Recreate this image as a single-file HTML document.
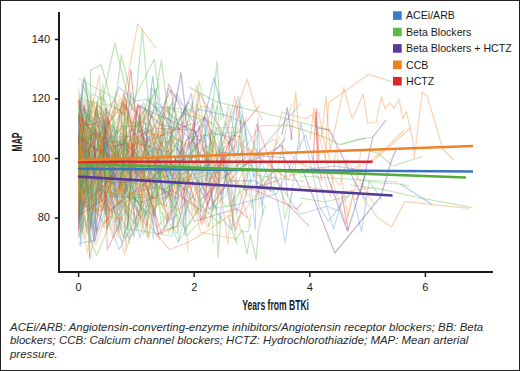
<!DOCTYPE html>
<html><head><meta charset="utf-8"><style>
html,body{margin:0;padding:0;background:#fff;}
body{width:520px;height:371px;overflow:hidden;position:relative;}
.frame{position:absolute;left:0;top:0;width:518px;height:369px;border:1px solid #222;}
svg{position:absolute;left:0;top:0;}
.tk{font-family:"Liberation Sans",sans-serif;font-size:11px;fill:#1a1a1a;}
.lg{font-family:"Liberation Sans",sans-serif;font-size:10.6px;fill:#1a1a1a;}
.cap{position:absolute;left:10px;top:320.6px;width:505px;font-family:"Liberation Sans",sans-serif;font-style:italic;font-size:11.45px;line-height:13.8px;color:#2a2a2a;}
</style></head><body>
<svg width="520" height="371" viewBox="0 0 520 371">
<defs><filter id="bl" x="0" y="0" width="1" height="1"><feGaussianBlur stdDeviation="0.45"/></filter></defs>
<g fill="none" stroke-linejoin="round" filter="url(#bl)">
<polyline points="78.6,175.9 82.4,138.3 130.2,136.5 133.9,162.5 141.0,190.5 175.3,128.3 185.1,235.7 189.2,137.2 207.4,135.3 216.5,151.2 234.6,187.8" stroke="#3a7dc9" stroke-opacity="0.3" stroke-width="1.15"/>
<polyline points="78.6,101.3 84.4,208.5 87.3,170.7 103.0,152.3 117.3,144.9 121.1,187.7 132.0,135.3 138.8,175.1 150.3,126.7 168.9,197.9 171.7,138.1" stroke="#f07f1d" stroke-opacity="0.3" stroke-width="1.15"/>
<polyline points="78.6,211.4 86.1,163.5 104.2,181.1 110.5,158.8 125.3,138.1 129.6,167.2 151.1,168.2 173.3,180.0 185.7,191.0" stroke="#5cb846" stroke-opacity="0.3" stroke-width="1.15"/>
<polyline points="78.6,236.4 93.7,208.5 104.2,222.8 120.7,200.6 139.5,220.0 147.0,150.8 149.9,179.3" stroke="#f07f1d" stroke-opacity="0.3" stroke-width="1.15"/>
<polyline points="78.6,132.7 80.1,176.4 86.3,144.9 89.2,131.8 103.7,111.8 112.3,214.8 116.5,137.5 119.0,191.5 125.0,137.3 133.0,192.4 153.6,188.1 169.0,153.4 186.3,202.9" stroke="#3a7dc9" stroke-opacity="0.3" stroke-width="1.15"/>
<polyline points="78.6,78.4 112.8,97.1 131.9,130.2 160.0,83.9" stroke="#5cb846" stroke-opacity="0.3" stroke-width="1.15"/>
<polyline points="78.6,101.4 97.5,192.7 124.6,104.4 135.7,138.1 150.5,130.2 194.5,221.3 237.0,208.6 247.8,218.2" stroke="#d9262b" stroke-opacity="0.3" stroke-width="1.15"/>
<polyline points="78.6,128.2 107.6,119.2 108.2,150.4" stroke="#d9262b" stroke-opacity="0.3" stroke-width="1.15"/>
<polyline points="78.6,159.2 89.3,115.6 92.1,102.4 115.1,183.7" stroke="#5cb846" stroke-opacity="0.3" stroke-width="1.15"/>
<polyline points="78.6,152.0 100.2,145.9 112.1,150.8 128.9,216.9 133.3,132.2 135.7,173.6 171.3,150.0 176.0,112.0 184.6,168.0 188.3,162.1 211.1,143.8" stroke="#5cb846" stroke-opacity="0.3" stroke-width="1.15"/>
<polyline points="78.6,216.1 83.5,125.3 91.9,100.7 111.4,115.5 131.7,209.7" stroke="#5cb846" stroke-opacity="0.3" stroke-width="1.15"/>
<polyline points="78.6,177.3 79.2,196.5" stroke="#f07f1d" stroke-opacity="0.3" stroke-width="1.15"/>
<polyline points="78.6,235.8 94.2,193.5 103.7,211.3 107.6,181.7 111.9,149.3 115.8,185.7 127.0,191.3" stroke="#5cb846" stroke-opacity="0.3" stroke-width="1.15"/>
<polyline points="78.6,123.5 91.7,164.3 100.4,202.6 131.1,176.8" stroke="#5cb846" stroke-opacity="0.3" stroke-width="1.15"/>
<polyline points="78.6,100.9 91.9,232.1 100.7,150.0 107.5,184.0 159.9,177.6 167.0,222.2 173.0,178.2 220.9,187.2 273.2,139.1 321.7,181.4" stroke="#f07f1d" stroke-opacity="0.3" stroke-width="1.15"/>
<polyline points="78.6,178.9 81.1,156.7 95.4,240.3 106.6,119.0 119.3,134.7 126.3,190.0 129.9,156.5 135.0,206.8 137.8,169.2 156.1,189.2" stroke="#3a7dc9" stroke-opacity="0.3" stroke-width="1.15"/>
<polyline points="78.6,159.3 108.1,172.9 115.3,199.9 123.1,237.8" stroke="#5cb846" stroke-opacity="0.3" stroke-width="1.15"/>
<polyline points="78.6,205.2 89.3,135.0" stroke="#f07f1d" stroke-opacity="0.3" stroke-width="1.15"/>
<polyline points="78.6,147.1 81.5,150.2 82.1,83.5 87.5,96.4 111.0,199.9 116.1,188.3 121.3,189.0 129.4,99.3 151.4,165.8 177.3,148.4 190.9,176.5 199.4,201.2 252.7,150.4 256.8,124.1 284.7,201.4 309.2,226.4" stroke="#d9262b" stroke-opacity="0.3" stroke-width="1.15"/>
<polyline points="78.6,169.3 80.2,141.6 83.2,113.7 85.8,100.2 101.8,156.1 107.7,179.4 139.3,105.3 142.4,167.6 164.1,173.1 175.3,142.1 205.0,174.5" stroke="#f07f1d" stroke-opacity="0.3" stroke-width="1.15"/>
<polyline points="78.6,136.9 88.5,144.4 91.5,125.2 101.1,199.0 104.2,144.1 108.9,148.1 121.8,217.9 143.3,102.3 165.6,168.8 186.8,235.7 226.1,194.4 240.4,160.5 246.3,129.2" stroke="#5cb846" stroke-opacity="0.3" stroke-width="1.15"/>
<polyline points="78.6,157.3 104.3,228.4 105.6,107.4 145.2,175.9 165.6,192.8 177.8,205.1 180.9,159.0 188.4,252.9" stroke="#5cb846" stroke-opacity="0.3" stroke-width="1.15"/>
<polyline points="78.6,214.4 81.7,169.7 110.3,156.1" stroke="#d9262b" stroke-opacity="0.3" stroke-width="1.15"/>
<polyline points="78.6,190.8 84.8,182.8 88.1,118.2 93.8,166.0 112.2,175.0 119.9,157.5 123.4,136.5 138.8,158.5 156.2,148.5 174.0,210.3 187.1,105.9" stroke="#5cb846" stroke-opacity="0.3" stroke-width="1.15"/>
<polyline points="78.6,156.3 88.1,215.7 89.8,259.6 102.1,188.8 107.3,181.6 142.6,159.0 151.9,149.2" stroke="#d9262b" stroke-opacity="0.3" stroke-width="1.15"/>
<polyline points="78.6,219.8 81.6,207.0 116.8,172.5 122.3,146.3 125.1,193.1 170.8,89.8 187.6,173.8 199.4,93.3 234.1,152.6 237.0,105.6" stroke="#d9262b" stroke-opacity="0.3" stroke-width="1.15"/>
<polyline points="78.6,177.7 81.0,168.5 94.0,141.6 99.9,155.9 142.0,208.1 157.1,227.1 172.4,209.7 185.4,229.5 241.8,145.3" stroke="#5cb846" stroke-opacity="0.3" stroke-width="1.15"/>
<polyline points="78.6,161.5 123.4,104.1 130.4,182.6" stroke="#d9262b" stroke-opacity="0.3" stroke-width="1.15"/>
<polyline points="78.6,185.7 85.2,105.5 88.0,142.7 97.7,150.3 147.1,128.4 170.1,182.9 172.6,99.2 176.2,93.9 195.1,124.6 204.1,117.9 208.2,187.5 238.7,96.0 243.1,165.9 253.9,158.7 262.2,148.2 300.9,103.0" stroke="#3a7dc9" stroke-opacity="0.3" stroke-width="1.15"/>
<polyline points="78.6,135.6 85.3,191.8 90.9,171.5 94.3,179.6 108.7,182.1 111.3,161.2 116.3,206.8 121.1,229.4 124.5,98.3 161.0,144.0 170.4,154.2 193.9,178.7 204.3,187.4 214.3,133.2 220.8,197.5 225.9,207.6 256.0,175.2 304.1,181.6" stroke="#5cb846" stroke-opacity="0.3" stroke-width="1.15"/>
<polyline points="78.6,149.8 95.3,191.7 97.8,187.5 101.1,214.9" stroke="#f07f1d" stroke-opacity="0.3" stroke-width="1.15"/>
<polyline points="78.6,87.1 80.3,105.7 109.4,123.8 116.3,148.8 119.9,153.9 139.3,140.4" stroke="#f07f1d" stroke-opacity="0.3" stroke-width="1.15"/>
<polyline points="78.6,140.2 82.7,135.1 90.8,242.0 106.2,159.0 126.0,184.7 131.5,201.3 139.8,238.2 157.5,155.2 163.3,204.4 186.2,157.9 204.3,136.1 214.0,211.1" stroke="#3a7dc9" stroke-opacity="0.3" stroke-width="1.15"/>
<polyline points="78.6,116.5 84.2,152.5 87.0,111.7 89.5,163.2 123.4,125.4 125.8,250.5 134.2,146.0 142.4,139.7 161.5,131.9 169.5,163.4 187.3,169.4 192.3,214.0 204.8,145.2 222.7,157.4 226.6,172.9 260.6,125.6 288.8,125.4 294.4,126.7" stroke="#f07f1d" stroke-opacity="0.3" stroke-width="1.15"/>
<polyline points="78.6,137.6 81.1,173.7 83.6,108.6 87.2,141.6 96.0,131.5 111.6,177.7 115.4,91.4 153.4,145.2 172.4,101.5" stroke="#f07f1d" stroke-opacity="0.3" stroke-width="1.15"/>
<polyline points="78.6,218.7 81.1,184.9 84.1,164.8 94.0,242.3 114.6,184.1 120.5,172.5 127.6,169.2" stroke="#3a7dc9" stroke-opacity="0.3" stroke-width="1.15"/>
<polyline points="78.6,216.3 79.2,148.5 81.3,184.0 90.9,227.5" stroke="#3a7dc9" stroke-opacity="0.3" stroke-width="1.15"/>
<polyline points="78.6,114.7 81.4,178.4 83.1,131.5 92.1,93.7 105.6,101.1 110.5,149.0 125.5,164.4 150.6,173.5 163.8,183.2 168.2,221.0 179.0,214.0 191.4,161.9 196.3,108.9 226.2,115.4 232.6,118.0 244.6,123.7 255.3,229.6 257.9,117.4 262.7,215.3" stroke="#3a7dc9" stroke-opacity="0.3" stroke-width="1.15"/>
<polyline points="78.6,144.8 97.6,177.4 102.5,171.3 126.1,183.7 130.5,128.7 152.3,133.7 164.9,135.6" stroke="#f07f1d" stroke-opacity="0.3" stroke-width="1.15"/>
<polyline points="78.6,170.9 81.7,179.4 108.3,174.7 119.8,140.3 132.7,189.5 148.9,112.8" stroke="#5cb846" stroke-opacity="0.3" stroke-width="1.15"/>
<polyline points="78.6,208.7 88.1,159.9 89.0,225.2 104.0,172.8 108.3,197.3 117.4,158.8 124.6,193.7 153.8,195.8 211.0,163.3 216.0,127.3 237.3,245.2" stroke="#5cb846" stroke-opacity="0.3" stroke-width="1.15"/>
<polyline points="78.6,114.2 80.0,121.9 81.1,152.3 85.5,82.4 94.1,156.3" stroke="#5cb846" stroke-opacity="0.3" stroke-width="1.15"/>
<polyline points="78.6,216.5 81.0,142.2 88.4,182.8 102.9,209.4" stroke="#f07f1d" stroke-opacity="0.3" stroke-width="1.15"/>
<polyline points="78.6,238.4 82.3,142.7 93.9,163.5 103.7,207.2 119.0,249.6 146.4,199.8 157.1,148.9" stroke="#3a7dc9" stroke-opacity="0.3" stroke-width="1.15"/>
<polyline points="78.6,147.9 89.7,138.6 100.2,89.9 108.6,213.6 144.5,169.3 146.9,156.4 162.9,208.5 167.9,185.2 218.4,171.7 241.2,119.6 243.8,151.0 251.8,208.8 279.4,136.0" stroke="#5cb846" stroke-opacity="0.3" stroke-width="1.15"/>
<polyline points="78.6,229.9 80.6,173.1 82.9,194.0 95.1,180.1 109.7,151.8 119.8,143.6 123.6,93.2 158.4,234.3 177.9,226.0 191.5,173.1 196.6,160.1 204.3,115.7 214.0,153.6" stroke="#d9262b" stroke-opacity="0.3" stroke-width="1.15"/>
<polyline points="78.6,173.8 90.5,191.0 109.7,110.2 119.1,87.3 135.3,101.3 146.3,99.3 196.9,144.7" stroke="#3a7dc9" stroke-opacity="0.3" stroke-width="1.15"/>
<polyline points="78.6,226.7 129.0,180.0" stroke="#5cb846" stroke-opacity="0.3" stroke-width="1.15"/>
<polyline points="78.6,182.0 82.4,161.2 100.0,197.2 117.7,238.2" stroke="#f07f1d" stroke-opacity="0.3" stroke-width="1.15"/>
<polyline points="78.6,189.0 88.0,112.3 91.6,194.5 109.3,186.5 144.9,109.8 149.9,124.3 159.0,176.1 177.8,140.8 180.6,186.5 187.3,176.3 199.2,81.2 210.1,129.8 213.1,244.2" stroke="#5cb846" stroke-opacity="0.3" stroke-width="1.15"/>
<polyline points="78.6,127.0 80.9,94.4 90.4,140.8 107.1,131.6 124.1,169.2 133.9,151.0 141.5,161.2 148.5,136.4 162.4,182.8 193.3,138.4 204.6,141.7" stroke="#3a7dc9" stroke-opacity="0.3" stroke-width="1.15"/>
<polyline points="78.6,197.6 105.3,171.8 107.7,219.7 111.7,174.9 135.9,195.1 162.4,176.7 187.3,172.7 200.6,232.4 235.8,238.7" stroke="#f07f1d" stroke-opacity="0.3" stroke-width="1.15"/>
<polyline points="78.6,140.6 82.1,187.7 96.9,178.5 101.2,194.5 106.5,121.2 108.8,154.6 142.8,178.8 155.4,140.5 163.7,194.4" stroke="#3a7dc9" stroke-opacity="0.3" stroke-width="1.15"/>
<polyline points="78.6,143.8 129.7,239.5 133.5,230.9 154.2,192.0 163.4,121.8 173.1,229.1 185.6,140.6 205.1,123.9 210.1,191.9 217.1,212.7 231.7,230.4 241.5,114.6 277.4,199.7 285.3,242.9 300.9,123.3 315.6,186.3 318.9,205.6 328.3,221.3 351.9,190.6 361.5,231.9 369.1,181.7 372.8,186.5 382.1,200.1" stroke="#3a7dc9" stroke-opacity="0.3" stroke-width="1.15"/>
<polyline points="78.6,153.7 88.7,149.2 100.8,200.1 112.7,180.6 115.8,145.3 123.7,173.4 127.1,190.6 140.6,205.1 149.8,206.7 154.4,215.8 160.8,183.4 168.9,233.5 197.0,156.8" stroke="#f07f1d" stroke-opacity="0.3" stroke-width="1.15"/>
<polyline points="78.6,148.2 104.3,159.8 105.2,184.7 118.7,164.7 132.2,176.1" stroke="#3a7dc9" stroke-opacity="0.3" stroke-width="1.15"/>
<polyline points="78.6,117.2 82.1,146.8 97.9,205.9" stroke="#f07f1d" stroke-opacity="0.3" stroke-width="1.15"/>
<polyline points="78.6,158.8 95.4,129.3 107.2,157.3" stroke="#3a7dc9" stroke-opacity="0.3" stroke-width="1.15"/>
<polyline points="78.6,140.7 82.1,190.5 83.8,171.6 114.5,162.9 129.4,173.7 135.0,163.8 156.6,102.5 178.5,120.6 188.9,101.6" stroke="#3a7dc9" stroke-opacity="0.3" stroke-width="1.15"/>
<polyline points="78.6,128.1 90.7,177.5 96.1,230.6 122.4,140.3 138.5,215.8 168.1,88.7 182.0,105.4" stroke="#3a7dc9" stroke-opacity="0.3" stroke-width="1.15"/>
<polyline points="78.6,160.5 80.2,140.7 88.4,113.6 143.7,166.7 151.9,88.4 156.4,93.6 173.3,138.1 182.3,121.6 222.2,195.1 240.5,103.3 253.3,176.8 264.3,155.8" stroke="#3a7dc9" stroke-opacity="0.3" stroke-width="1.15"/>
<polyline points="78.6,160.6 85.3,138.5 95.5,244.9 103.6,222.6 109.3,216.6 125.3,219.9" stroke="#f07f1d" stroke-opacity="0.3" stroke-width="1.15"/>
<polyline points="78.6,182.0 80.0,191.0 95.4,193.6 112.8,213.1 117.1,180.5 120.2,137.0 139.4,159.6 143.2,235.0 164.2,172.7 189.1,141.8 208.5,153.2 212.6,205.7 230.2,170.4" stroke="#f07f1d" stroke-opacity="0.3" stroke-width="1.15"/>
<polyline points="78.6,113.7 96.1,175.1 103.8,120.3 106.6,167.2 122.0,138.4 156.1,109.1 196.2,214.1 217.6,158.7" stroke="#5cb846" stroke-opacity="0.3" stroke-width="1.15"/>
<polyline points="78.6,149.7 95.5,112.8 126.8,171.3 131.5,156.6" stroke="#5cb846" stroke-opacity="0.3" stroke-width="1.15"/>
<polyline points="78.6,130.6 79.9,171.1 91.8,197.4 98.0,216.2 101.3,131.5 115.6,198.3 123.3,171.2 148.5,166.5 155.6,178.5 177.7,210.5 202.5,188.0" stroke="#f07f1d" stroke-opacity="0.3" stroke-width="1.15"/>
<polyline points="78.6,150.8 113.2,193.8 133.6,223.5 137.2,143.1 168.1,151.9 174.7,119.6" stroke="#d9262b" stroke-opacity="0.3" stroke-width="1.15"/>
<polyline points="78.6,138.6 81.6,220.6 84.9,146.1 89.2,211.0 104.1,190.7 112.9,167.5 121.7,101.2 149.2,147.6 157.2,128.2 194.1,130.1 217.7,180.0 227.9,153.1" stroke="#d9262b" stroke-opacity="0.3" stroke-width="1.15"/>
<polyline points="78.6,169.8 81.3,201.3 82.0,213.4 104.4,142.1 123.7,140.7 140.6,148.3 163.3,178.6 169.3,153.7 173.2,166.4 189.4,187.8 212.9,176.5 219.9,203.4 224.6,178.2" stroke="#f07f1d" stroke-opacity="0.3" stroke-width="1.15"/>
<polyline points="78.6,179.7 80.6,205.3 81.3,168.1 84.1,150.8 89.5,167.4 100.6,156.8 117.3,221.4" stroke="#f07f1d" stroke-opacity="0.3" stroke-width="1.15"/>
<polyline points="78.6,136.6 84.8,105.2 92.7,210.9 101.9,171.2 110.7,104.4" stroke="#f07f1d" stroke-opacity="0.3" stroke-width="1.15"/>
<polyline points="78.6,228.3 92.1,158.0" stroke="#5cb846" stroke-opacity="0.3" stroke-width="1.15"/>
<polyline points="78.6,151.5 81.9,152.4 83.3,144.5 93.0,176.8 97.8,104.5 109.7,121.8 112.7,170.4" stroke="#d9262b" stroke-opacity="0.3" stroke-width="1.15"/>
<polyline points="78.6,138.0 94.6,146.8 96.1,234.0 118.1,152.7 125.9,167.5 143.9,172.8" stroke="#5b3a9e" stroke-opacity="0.3" stroke-width="1.15"/>
<polyline points="78.6,182.9 82.7,206.3 94.2,199.6 98.1,178.9 114.6,222.5 126.9,200.9 131.3,196.0 147.2,236.0 150.1,138.2" stroke="#5cb846" stroke-opacity="0.3" stroke-width="1.15"/>
<polyline points="78.6,208.0 93.0,204.9 96.1,108.6 133.9,236.9 142.2,169.1 145.0,144.1 151.1,114.8 160.0,142.0 170.4,191.5 179.0,137.1" stroke="#5b3a9e" stroke-opacity="0.3" stroke-width="1.15"/>
<polyline points="78.6,137.4 82.1,228.7 83.1,161.4 126.5,107.4" stroke="#5cb846" stroke-opacity="0.3" stroke-width="1.15"/>
<polyline points="78.6,137.6 117.3,164.7" stroke="#d9262b" stroke-opacity="0.3" stroke-width="1.15"/>
<polyline points="78.6,135.8 92.5,138.9 98.6,147.0 133.1,181.1 162.0,140.4 170.8,206.7 177.9,162.5" stroke="#5cb846" stroke-opacity="0.3" stroke-width="1.15"/>
<polyline points="78.6,164.4 80.6,161.1 91.2,198.2 98.0,158.8 103.0,196.0 123.4,196.8 164.5,198.2 169.0,109.1 173.7,232.1 178.3,242.6 212.8,102.5 237.1,212.6 251.3,162.1 262.4,206.1 265.2,181.5 274.5,176.8 299.7,214.2 327.6,206.3 338.9,211.3" stroke="#3a7dc9" stroke-opacity="0.3" stroke-width="1.15"/>
<polyline points="78.6,191.9 85.4,238.6 89.7,208.1 94.1,151.9 101.5,144.1" stroke="#f07f1d" stroke-opacity="0.3" stroke-width="1.15"/>
<polyline points="78.6,134.6 80.9,209.2 83.8,184.2 91.3,226.0 102.8,83.4 108.3,141.8 130.7,200.1 142.0,194.5 148.1,239.1 160.3,184.2 163.8,106.6 211.8,123.2 234.4,148.1" stroke="#5cb846" stroke-opacity="0.3" stroke-width="1.15"/>
<polyline points="78.6,153.7 113.8,147.3 145.8,170.7 155.6,203.4 176.1,208.0 179.0,241.1 197.0,209.9 217.1,104.8 223.0,153.0 232.4,166.2 250.0,163.3 272.6,193.1 291.4,103.6" stroke="#5cb846" stroke-opacity="0.3" stroke-width="1.15"/>
<polyline points="78.6,144.2 83.3,204.7 101.5,210.6 105.3,192.5 119.0,233.3 122.2,119.2 131.3,194.6 137.3,188.0 141.0,171.9 143.8,143.5" stroke="#f07f1d" stroke-opacity="0.3" stroke-width="1.15"/>
<polyline points="78.6,173.9 79.6,164.3 81.2,165.6 89.6,171.7 108.5,140.0 115.8,131.7 122.8,129.1 127.9,229.4 132.2,229.1 172.0,236.2 176.3,196.4" stroke="#5cb846" stroke-opacity="0.3" stroke-width="1.15"/>
<polyline points="78.6,107.8 102.8,114.6 111.7,111.8 128.8,113.9 141.5,149.7 147.0,195.5 156.6,125.9 176.9,194.6" stroke="#f07f1d" stroke-opacity="0.3" stroke-width="1.15"/>
<polyline points="78.6,204.8 82.8,124.7 86.4,145.8 122.8,158.6 127.1,157.1 153.4,199.5" stroke="#d9262b" stroke-opacity="0.3" stroke-width="1.15"/>
<polyline points="78.6,167.9 98.5,172.8 99.1,152.0 106.6,182.0" stroke="#5cb846" stroke-opacity="0.3" stroke-width="1.15"/>
<polyline points="78.6,93.1 83.2,117.9 91.5,171.2 97.1,101.6 103.2,95.6 107.6,179.3 112.5,167.1 125.1,126.5 141.6,125.7 147.4,97.3 173.8,130.9 188.5,102.2 223.6,159.4" stroke="#5cb846" stroke-opacity="0.3" stroke-width="1.15"/>
<polyline points="78.6,98.9 112.0,162.0 131.8,129.1 157.6,167.8 174.6,174.2 205.1,116.8 219.6,152.0 284.5,157.8 300.8,188.9" stroke="#5b3a9e" stroke-opacity="0.3" stroke-width="1.15"/>
<polyline points="78.6,126.1 83.6,215.9" stroke="#f07f1d" stroke-opacity="0.3" stroke-width="1.15"/>
<polyline points="78.6,222.4 98.4,157.3 101.7,181.8 129.2,182.8 137.5,105.9 196.8,132.0 200.9,220.1 217.7,179.9 282.2,145.2 287.8,196.4" stroke="#5b3a9e" stroke-opacity="0.3" stroke-width="1.15"/>
<polyline points="78.6,106.1 81.2,156.9" stroke="#5cb846" stroke-opacity="0.3" stroke-width="1.15"/>
<polyline points="78.6,146.7 90.2,162.7 97.2,100.9 100.4,174.5 108.2,122.5 114.0,145.8 118.1,146.1 133.9,137.9 162.4,156.4 177.4,93.2" stroke="#5cb846" stroke-opacity="0.3" stroke-width="1.15"/>
<polyline points="78.6,198.6 85.7,138.6 112.9,238.4 128.2,143.9 170.1,219.7 174.5,158.7 202.5,194.7" stroke="#f07f1d" stroke-opacity="0.3" stroke-width="1.15"/>
<polyline points="78.6,166.1 93.5,119.6 115.0,100.1 124.3,136.7 154.9,153.6 173.9,200.2 195.6,115.6 204.9,153.9 212.0,151.8 214.5,141.0 227.8,244.9 230.6,212.3 236.8,183.9 254.6,148.2 259.0,207.4" stroke="#f07f1d" stroke-opacity="0.3" stroke-width="1.15"/>
<polyline points="78.6,199.2 87.7,98.9 89.4,258.1 94.0,126.9 104.8,167.7 107.4,229.2 123.8,180.2 165.9,190.8 168.9,193.9 176.6,176.9 182.0,151.8 185.0,158.7 189.5,224.5" stroke="#5cb846" stroke-opacity="0.3" stroke-width="1.15"/>
<polyline points="78.6,184.8 85.3,146.5 88.3,234.2 103.0,156.8 114.4,125.7 117.7,208.3 126.7,184.0 134.2,189.6 140.1,169.9 203.3,154.9 213.9,178.1 225.5,121.8 238.3,170.1" stroke="#3a7dc9" stroke-opacity="0.3" stroke-width="1.15"/>
<polyline points="78.6,180.2 91.9,201.0 96.9,189.6 121.8,176.0 127.0,122.6 142.3,122.1 154.1,126.6 168.8,106.9 177.9,177.2" stroke="#5cb846" stroke-opacity="0.3" stroke-width="1.15"/>
<polyline points="78.6,164.7 79.7,165.0 99.4,75.2 103.9,175.0 131.4,198.6 161.6,143.1 177.8,139.1 180.4,140.2" stroke="#f07f1d" stroke-opacity="0.3" stroke-width="1.15"/>
<polyline points="78.6,128.0 82.0,233.6 89.6,132.9 94.5,176.1 119.7,185.9 130.7,92.2 147.2,150.7 219.1,223.7 235.1,106.0" stroke="#3a7dc9" stroke-opacity="0.3" stroke-width="1.15"/>
<polyline points="78.6,224.2 81.4,178.9 82.6,214.9 87.7,228.5 90.4,228.5 92.9,161.0 98.4,149.3" stroke="#3a7dc9" stroke-opacity="0.3" stroke-width="1.15"/>
<polyline points="78.6,132.4 96.6,230.8 160.9,169.3 165.1,177.6 174.2,166.0" stroke="#f07f1d" stroke-opacity="0.3" stroke-width="1.15"/>
<polyline points="78.6,97.8 98.8,103.7 113.2,105.5 129.7,121.4 140.2,125.3 149.9,103.9 155.3,88.7 167.0,147.8 175.3,120.7 184.7,114.4 205.4,180.3 219.7,91.7" stroke="#5cb846" stroke-opacity="0.3" stroke-width="1.15"/>
<polyline points="78.6,211.2 86.6,161.8 89.5,196.8 101.4,164.1 111.3,128.0 139.0,124.9 185.9,153.7 247.2,189.5 280.2,167.9 284.6,219.1 292.3,191.8" stroke="#5cb846" stroke-opacity="0.3" stroke-width="1.15"/>
<polyline points="78.6,193.8 102.7,137.1 117.1,198.6 125.5,155.2 141.8,135.7 144.5,115.3 149.7,169.8 154.2,184.1 177.3,198.9 184.0,108.7 194.3,175.2 209.5,209.2 229.4,180.8 255.0,180.9 270.5,190.9 272.9,153.2 285.2,138.9" stroke="#5b3a9e" stroke-opacity="0.3" stroke-width="1.15"/>
<polyline points="78.6,175.4 81.5,114.0 98.7,127.0 110.0,172.8 140.5,150.6 153.4,214.1 172.1,168.8" stroke="#5cb846" stroke-opacity="0.3" stroke-width="1.15"/>
<polyline points="78.6,171.2 90.3,158.9 92.4,103.3 112.5,128.0 116.7,170.5 120.5,205.7 138.3,104.5 169.8,158.5" stroke="#f07f1d" stroke-opacity="0.3" stroke-width="1.15"/>
<polyline points="78.6,100.5 80.5,105.3 87.6,159.8 120.4,194.8 135.9,161.6 149.7,195.7 166.1,206.3 178.1,179.0 197.6,159.5 203.5,190.1 223.6,158.6 239.5,190.1 250.5,226.7" stroke="#f07f1d" stroke-opacity="0.3" stroke-width="1.15"/>
<polyline points="78.6,113.2 82.8,172.7 88.0,208.6 97.5,148.0 104.4,154.3 126.8,170.9 148.6,164.2 153.8,153.9 156.4,203.7 159.2,114.0 178.3,190.4 195.0,148.7 198.9,186.5 208.0,149.9 213.9,165.5 246.9,138.9" stroke="#5cb846" stroke-opacity="0.3" stroke-width="1.15"/>
<polyline points="78.6,124.6 81.8,109.1 84.2,130.0 131.1,147.9" stroke="#3a7dc9" stroke-opacity="0.3" stroke-width="1.15"/>
<polyline points="78.6,213.6 103.6,155.4 124.4,254.8 141.9,201.7 189.6,109.9 211.5,122.8 214.0,165.4 218.2,194.4 233.4,176.0 249.6,196.0" stroke="#f07f1d" stroke-opacity="0.3" stroke-width="1.15"/>
<polyline points="78.6,141.0 90.4,163.6 93.7,174.9 100.7,173.3 104.0,142.5 117.5,231.6 132.2,147.9 135.5,185.0 138.1,169.3 156.4,236.6 166.1,224.9 182.7,172.1" stroke="#3a7dc9" stroke-opacity="0.3" stroke-width="1.15"/>
<polyline points="78.6,143.3 84.1,142.4 86.3,159.0 90.1,207.4" stroke="#3a7dc9" stroke-opacity="0.3" stroke-width="1.15"/>
<polyline points="78.6,193.8 100.3,132.7 134.9,182.3 144.3,219.7 155.9,186.7 162.7,167.9 169.8,164.4 209.3,165.8 216.5,128.0 234.9,127.5" stroke="#5cb846" stroke-opacity="0.3" stroke-width="1.15"/>
<polyline points="78.6,124.3 93.7,124.5 96.4,106.0 102.8,155.0 106.6,108.8 115.4,158.9 122.2,171.4 137.8,103.6 159.3,239.8" stroke="#d9262b" stroke-opacity="0.3" stroke-width="1.15"/>
<polyline points="78.6,203.2 94.8,123.1 103.4,161.9 138.3,157.7 170.4,128.0" stroke="#5cb846" stroke-opacity="0.3" stroke-width="1.15"/>
<polyline points="78.6,210.0 87.4,253.0 91.6,216.6 100.7,166.0 140.2,226.0 149.2,104.4 158.0,201.2 194.8,183.2 205.0,221.6 209.9,181.6 229.7,142.8 233.6,139.2 289.0,179.8 294.4,160.9 322.8,172.0 330.5,197.2 336.3,147.4 348.1,217.4 357.0,178.4 361.1,149.0" stroke="#f07f1d" stroke-opacity="0.3" stroke-width="1.15"/>
<polyline points="78.6,145.4 80.0,198.6 92.6,175.2 113.4,196.9 142.6,177.1 148.5,238.0 152.4,210.0 186.9,176.3 200.0,173.3 250.7,148.5 265.3,194.4 281.7,112.2 306.2,118.7 312.3,114.2 345.6,223.4 353.7,191.4" stroke="#f07f1d" stroke-opacity="0.3" stroke-width="1.15"/>
<polyline points="78.6,116.0 93.6,133.0 103.6,157.6 146.5,226.2 168.7,84.2 181.5,109.6 185.4,214.7" stroke="#d9262b" stroke-opacity="0.3" stroke-width="1.15"/>
<polyline points="78.6,130.7 107.1,141.1 130.9,144.9 149.8,206.5 157.7,192.0 173.0,141.0 201.2,106.6 206.4,106.5 214.1,172.8 237.5,142.3 243.8,120.7" stroke="#f07f1d" stroke-opacity="0.3" stroke-width="1.15"/>
<polyline points="78.6,194.0 79.4,153.4 81.6,134.0 87.6,121.8" stroke="#f07f1d" stroke-opacity="0.3" stroke-width="1.15"/>
<polyline points="78.6,224.5 88.7,111.4 93.8,170.5 108.8,170.7 126.6,146.4 138.7,121.7 152.5,187.1 171.4,103.5 174.7,112.3 182.8,167.3 203.8,134.6 241.5,132.1 246.7,117.0" stroke="#5cb846" stroke-opacity="0.3" stroke-width="1.15"/>
<polyline points="78.6,117.6 82.7,184.3 85.9,231.6 90.8,195.4 105.0,192.4 118.1,194.7 141.3,134.5 158.1,126.3 169.4,105.7 171.9,173.7 179.0,179.0 191.9,175.9" stroke="#f07f1d" stroke-opacity="0.3" stroke-width="1.15"/>
<polyline points="78.6,124.9 84.3,76.6 109.1,168.7 122.0,102.7 149.0,154.1 152.3,155.5 161.5,225.4" stroke="#5cb846" stroke-opacity="0.3" stroke-width="1.15"/>
<polyline points="78.6,106.3 83.2,139.3 116.3,124.5 126.0,93.8" stroke="#5cb846" stroke-opacity="0.3" stroke-width="1.15"/>
<polyline points="78.6,189.1 80.3,232.8 90.2,153.3 115.5,141.4" stroke="#f07f1d" stroke-opacity="0.3" stroke-width="1.15"/>
<polyline points="78.6,187.9 84.7,191.0 90.4,216.6 119.6,156.2 127.8,227.3 132.7,138.7" stroke="#5cb846" stroke-opacity="0.3" stroke-width="1.15"/>
<polyline points="78.6,145.7 97.5,132.6 102.0,211.1" stroke="#f07f1d" stroke-opacity="0.3" stroke-width="1.15"/>
<polyline points="78.6,215.8 103.4,199.6 104.2,191.7 107.0,228.3 110.9,199.8 127.4,229.6 132.3,142.7 161.7,233.9 188.3,178.9 201.6,224.4 223.8,155.2 235.4,231.0 247.8,187.0 296.8,209.0 302.6,202.4" stroke="#d9262b" stroke-opacity="0.3" stroke-width="1.15"/>
<polyline points="78.6,134.9 80.8,199.4 119.2,100.0 146.7,159.6 151.3,217.6" stroke="#f07f1d" stroke-opacity="0.3" stroke-width="1.15"/>
<polyline points="78.6,165.9 81.6,241.6 92.5,126.3 106.9,171.8 120.0,159.2 135.6,202.7 151.0,142.4 160.6,211.6 176.5,233.2 196.6,185.4 209.0,226.9 221.8,161.1 241.3,232.0 248.5,231.4 251.2,213.1" stroke="#5cb846" stroke-opacity="0.3" stroke-width="1.15"/>
<polyline points="78.6,171.1 93.1,97.7 100.6,147.5 104.5,154.5 120.3,172.5 123.4,184.3 143.3,110.6 179.7,141.6 213.1,164.1 222.5,134.4" stroke="#f07f1d" stroke-opacity="0.3" stroke-width="1.15"/>
<polyline points="78.6,185.5 80.5,173.3 100.6,106.7 106.9,130.9 111.4,130.1 144.0,141.8 154.6,184.1 170.9,136.7 194.7,147.5 213.3,167.4 223.0,141.9 228.3,143.8 240.8,111.4" stroke="#5cb846" stroke-opacity="0.3" stroke-width="1.15"/>
<polyline points="78.6,106.2 118.4,144.2 175.0,185.3 201.1,172.1" stroke="#5cb846" stroke-opacity="0.3" stroke-width="1.15"/>
<polyline points="78.6,142.1 84.7,159.2 95.7,208.6 99.8,173.5 108.0,165.2 117.1,204.1 120.7,200.9 138.1,227.4 141.5,189.2" stroke="#5cb846" stroke-opacity="0.3" stroke-width="1.15"/>
<polyline points="78.6,118.0 90.8,169.1 103.9,122.1 111.1,180.2 137.1,147.4 140.7,104.7 160.2,124.4 176.5,128.2 191.5,93.5 194.6,127.6 205.3,199.7 210.8,130.1 216.1,134.2 227.4,136.2 232.8,140.0" stroke="#5b3a9e" stroke-opacity="0.3" stroke-width="1.15"/>
<polyline points="78.6,132.5 93.7,127.3 122.4,162.2 125.3,97.2 135.6,173.4 155.5,167.5 161.0,142.6" stroke="#f07f1d" stroke-opacity="0.3" stroke-width="1.15"/>
<polyline points="78.6,181.2 79.4,175.3 99.1,161.2 128.0,116.5 155.7,217.1" stroke="#5cb846" stroke-opacity="0.3" stroke-width="1.15"/>
<polyline points="78.6,184.9 135.2,198.8 148.1,214.7 172.7,130.7 187.1,108.7 194.4,147.0" stroke="#5cb846" stroke-opacity="0.3" stroke-width="1.15"/>
<polyline points="78.6,107.6 82.0,115.0 94.4,165.7 100.4,149.8" stroke="#5cb846" stroke-opacity="0.3" stroke-width="1.15"/>
<polyline points="78.6,168.4 81.7,144.8" stroke="#f07f1d" stroke-opacity="0.3" stroke-width="1.15"/>
<polyline points="78.6,106.6 102.7,131.8 106.1,214.7 115.5,129.2 123.0,155.4 139.7,201.9" stroke="#5cb846" stroke-opacity="0.3" stroke-width="1.15"/>
<polyline points="78.6,204.8 100.8,211.5 101.8,170.0 108.5,211.6 112.1,171.9" stroke="#f07f1d" stroke-opacity="0.3" stroke-width="1.15"/>
<polyline points="78.6,243.5 94.2,240.4 97.7,175.8 101.1,194.9 116.7,230.9 122.2,242.0 135.6,196.6 144.0,216.6 147.1,210.4 154.3,216.9 163.7,127.9 216.8,209.3 221.4,148.5 230.3,206.3 276.5,193.9 305.4,134.7 333.5,229.0 344.1,193.1" stroke="#3a7dc9" stroke-opacity="0.3" stroke-width="1.15"/>
<polyline points="78.6,186.6 86.6,179.4 96.3,135.1 99.0,134.4 102.9,116.9 107.4,250.1 125.9,209.2" stroke="#d9262b" stroke-opacity="0.3" stroke-width="1.15"/>
<polyline points="78.6,138.1 84.5,166.3 88.2,157.6 95.0,174.5 103.9,198.3 110.9,182.9 124.7,126.5 139.5,199.1 162.7,141.3" stroke="#f07f1d" stroke-opacity="0.3" stroke-width="1.15"/>
<polyline points="78.6,183.8 79.9,100.5 83.0,179.5 107.2,131.1 127.9,210.1 138.8,141.6 143.7,213.4" stroke="#f07f1d" stroke-opacity="0.3" stroke-width="1.15"/>
<polyline points="78.6,113.7 81.9,195.3 111.0,158.6 140.7,136.9 149.1,165.8 166.5,121.3" stroke="#f07f1d" stroke-opacity="0.3" stroke-width="1.15"/>
<polyline points="78.6,146.0 79.8,142.7 82.7,200.7 95.5,198.2 101.1,169.8 119.7,191.6 152.3,97.2 177.8,180.4 208.0,227.3 220.6,175.3 227.6,112.5 233.1,226.3 275.2,168.8 283.7,176.9 325.2,168.1 339.7,185.5 346.9,159.9 373.9,204.1" stroke="#f07f1d" stroke-opacity="0.3" stroke-width="1.15"/>
<polyline points="78.6,139.9 83.8,194.6 90.2,161.7 108.7,178.6 116.4,127.5 121.9,195.7 146.4,204.2 181.0,134.7" stroke="#5cb846" stroke-opacity="0.3" stroke-width="1.15"/>
<polyline points="78.6,99.8 87.8,152.2 102.7,115.2 108.4,147.2 127.7,143.1 132.0,180.2 136.5,109.9 145.1,141.9 192.3,123.5 195.8,151.4 199.6,125.7 204.7,155.5 207.3,204.7 223.2,149.4 259.4,105.8" stroke="#d9262b" stroke-opacity="0.3" stroke-width="1.15"/>
<polyline points="78.6,140.6 91.0,192.0" stroke="#5cb846" stroke-opacity="0.3" stroke-width="1.15"/>
<polyline points="78.6,119.1 80.2,187.7 89.4,152.2 92.7,228.1 105.9,134.9 119.0,210.9 144.5,130.8 166.9,199.1 192.8,102.1" stroke="#3a7dc9" stroke-opacity="0.3" stroke-width="1.15"/>
<polyline points="78.6,144.3 81.4,116.6 88.8,127.6 108.9,211.0 177.9,157.9 195.1,123.9" stroke="#d9262b" stroke-opacity="0.3" stroke-width="1.15"/>
<polyline points="78.6,193.6 84.5,133.5 92.7,189.8 108.1,114.8 111.8,215.0" stroke="#f07f1d" stroke-opacity="0.3" stroke-width="1.15"/>
<polyline points="78.6,231.4 79.8,196.2 83.0,205.0 92.5,126.9 97.1,171.3 103.0,139.9 114.2,107.3 127.1,115.4 140.6,202.9 171.2,189.9 200.8,210.4 232.5,134.9 240.0,136.7 242.7,158.1 245.4,190.3 279.4,180.1" stroke="#d9262b" stroke-opacity="0.3" stroke-width="1.15"/>
<polyline points="78.6,114.4 80.8,116.8 94.6,201.8 99.5,128.7 102.8,121.0 105.8,183.9 113.8,114.8 119.6,103.6 136.3,230.8 144.8,166.9 156.7,107.4 189.6,109.3 194.3,107.5 197.2,103.8 209.3,165.5 217.2,155.9 228.5,105.0 247.0,197.3" stroke="#5cb846" stroke-opacity="0.3" stroke-width="1.15"/>
<polyline points="78.6,195.9 83.1,162.9 83.8,172.7 121.8,193.9 125.3,104.4 129.2,244.5 138.1,126.7 163.8,190.0 185.2,176.8 194.8,142.8 198.7,212.2 209.9,208.2 234.0,205.8 247.1,172.2 257.5,133.8" stroke="#5cb846" stroke-opacity="0.3" stroke-width="1.15"/>
<polyline points="78.6,187.7 81.8,194.9 116.3,167.6 145.6,214.4 164.3,165.0 218.2,168.6" stroke="#5cb846" stroke-opacity="0.3" stroke-width="1.15"/>
<polyline points="120.0,112.0 127.3,79.7 137.7,24.0 156.4,48.4" stroke="#f07f1d" stroke-opacity="0.34" stroke-width="1.2"/>
<polyline points="134.0,110.0 137.0,86.0 142.4,29.0 147.8,95.0 152.0,118.0" stroke="#5cb846" stroke-opacity="0.38" stroke-width="1.2"/>
<polyline points="100.0,120.0 103.6,95.0 114.8,43.0 125.2,86.0 130.0,105.0" stroke="#5cb846" stroke-opacity="0.38" stroke-width="1.2"/>
<polyline points="112.0,120.0 116.5,95.0 121.3,55.0 128.4,84.0 132.0,110.0" stroke="#5cb846" stroke-opacity="0.38" stroke-width="1.2"/>
<polyline points="128.0,118.0 136.0,95.0 154.3,59.2 160.0,100.0" stroke="#5cb846" stroke-opacity="0.38" stroke-width="1.2"/>
<polyline points="152.0,118.0 161.4,60.3 168.0,112.0 175.0,120.0" stroke="#5cb846" stroke-opacity="0.38" stroke-width="1.2"/>
<polyline points="88.0,130.0 90.4,115.0 90.4,70.4 100.9,64.7 106.6,83.3 112.0,108.0" stroke="#5cb846" stroke-opacity="0.38" stroke-width="1.2"/>
<polyline points="79.0,120.0 83.9,78.5 86.3,87.4 90.0,122.0" stroke="#3a7dc9" stroke-opacity="0.38" stroke-width="1.2"/>
<polyline points="126.0,110.0 130.8,69.6 135.0,112.0" stroke="#d9262b" stroke-opacity="0.38" stroke-width="1.2"/>
<polyline points="148.0,115.0 152.8,76.4 157.0,112.0" stroke="#3a7dc9" stroke-opacity="0.38" stroke-width="1.2"/>
<polyline points="174.0,112.0 181.0,72.7 186.0,115.0" stroke="#5b3a9e" stroke-opacity="0.38" stroke-width="1.2"/>
<polyline points="211.0,125.0 217.0,61.0 221.0,120.0" stroke="#5cb846" stroke-opacity="0.38" stroke-width="1.2"/>
<polyline points="236.0,112.0 247.0,79.0 255.0,106.0 262.0,120.0" stroke="#f07f1d" stroke-opacity="0.34" stroke-width="1.2"/>
<polyline points="189.4,87.4 217.0,102.0 260.0,112.0 330.0,130.0" stroke="#5cb846" stroke-opacity="0.38" stroke-width="1.2"/>
<polyline points="291.0,140.0 295.8,91.4 300.0,150.0" stroke="#f07f1d" stroke-opacity="0.34" stroke-width="1.2"/>
<polyline points="321.0,140.0 326.0,96.7 330.0,150.0" stroke="#f07f1d" stroke-opacity="0.34" stroke-width="1.2"/>
<polyline points="310.0,140.0 314.0,107.6 318.0,150.0" stroke="#f07f1d" stroke-opacity="0.34" stroke-width="1.2"/>
<polyline points="313.0,160.0 316.4,108.8 319.0,160.0" stroke="#d9262b" stroke-opacity="0.38" stroke-width="1.2"/>
<polyline points="282.0,135.0 287.3,107.6 292.0,140.0" stroke="#5b3a9e" stroke-opacity="0.38" stroke-width="1.2"/>
<polyline points="325.0,160.0 328.5,102.8 368.5,74.4 386.8,80.1 398.0,84.0" stroke="#f07f1d" stroke-opacity="0.34" stroke-width="1.2"/>
<polyline points="330.0,150.0 334.6,130.7 343.7,87.6 352.3,118.9 363.1,94.1 367.8,122.8 376.0,122.5 381.4,96.5 385.0,108.6 389.4,103.0 394.3,108.0 399.1,99.0 402.8,118.8 406.4,111.6 413.2,141.9 414.4,157.7 422.2,92.1 427.0,95.8 434.3,120.0 442.8,149.2 453.7,160.0" stroke="#f07f1d" stroke-opacity="0.34" stroke-width="1.2"/>
<polyline points="372.0,162.0 411.3,127.3" stroke="#f07f1d" stroke-opacity="0.34" stroke-width="1.2"/>
<polyline points="393.0,166.0 422.2,156.5" stroke="#5cb846" stroke-opacity="0.38" stroke-width="1.2"/>
<polyline points="366.0,150.0 377.3,152.8 391.8,165.0" stroke="#5cb846" stroke-opacity="0.38" stroke-width="1.2"/>
<polyline points="340.7,144.0 366.0,138.0" stroke="#5cb846" stroke-opacity="0.38" stroke-width="1.2"/>
<polyline points="360.0,180.0 380.0,183.0 400.2,184.0 408.8,186.0" stroke="#5cb846" stroke-opacity="0.38" stroke-width="1.2"/>
<polyline points="400.2,184.0 432.0,204.2" stroke="#3a7dc9" stroke-opacity="0.38" stroke-width="1.2"/>
<polyline points="350.0,185.0 380.0,188.8 418.5,197.5 472.3,207.7" stroke="#5cb846" stroke-opacity="0.38" stroke-width="1.2"/>
<polyline points="362.0,197.4 377.7,217.5 391.5,227.0 405.0,201.3 428.0,204.2 469.0,208.3" stroke="#f07f1d" stroke-opacity="0.34" stroke-width="1.2"/>
<polyline points="302.0,168.0 334.8,253.0 380.9,196.3 391.6,160.0 396.0,150.0" stroke="#5b3a9e" stroke-opacity="0.38" stroke-width="1.2"/>
<polyline points="326.0,172.0 347.5,231.2 366.0,172.0" stroke="#5b3a9e" stroke-opacity="0.38" stroke-width="1.2"/>
<polyline points="341.8,194.2 348.1,230.0" stroke="#d9262b" stroke-opacity="0.38" stroke-width="1.2"/>
<polyline points="80.4,200.0 80.4,246.2" stroke="#3a7dc9" stroke-opacity="0.38" stroke-width="1.2"/>
<polyline points="84.0,215.0 87.3,232.3 96.6,255.4 104.6,237.0 110.0,220.0" stroke="#5cb846" stroke-opacity="0.38" stroke-width="1.2"/>
<polyline points="115.0,210.0 118.5,223.0 124.3,238.1 125.4,209.0" stroke="#5cb846" stroke-opacity="0.38" stroke-width="1.2"/>
<polyline points="153.1,205.0 153.1,239.3" stroke="#3a7dc9" stroke-opacity="0.38" stroke-width="1.2"/>
<polyline points="135.0,205.0 141.6,216.2 169.3,249.7 190.0,241.6 205.4,232.0 230.0,215.0" stroke="#f07f1d" stroke-opacity="0.34" stroke-width="1.2"/>
<polyline points="162.4,211.5 164.7,230.0 176.2,226.6 182.0,212.0" stroke="#5cb846" stroke-opacity="0.38" stroke-width="1.2"/>
<polyline points="216.0,205.0 218.1,257.4 221.0,215.0" stroke="#5cb846" stroke-opacity="0.38" stroke-width="1.2"/>
<polyline points="228.0,215.0 235.4,241.2 242.4,229.6 247.0,253.9 250.4,234.3 256.2,259.7 258.5,229.6 265.0,205.0" stroke="#5cb846" stroke-opacity="0.38" stroke-width="1.2"/>
<polyline points="290.0,126.0 300.0,128.9 324.3,137.0 340.4,145.0 356.0,140.0 372.8,137.0" stroke="#5cb846" stroke-opacity="0.38" stroke-width="1.2"/>
<polyline points="318.0,128.0 329.6,130.2 358.0,188.2 366.0,200.0" stroke="#5b3a9e" stroke-opacity="0.38" stroke-width="1.2"/>
<polyline points="386.0,120.0 372.8,137.0 362.0,188.2 356.0,200.0" stroke="#5b3a9e" stroke-opacity="0.38" stroke-width="1.2"/>
<polyline points="404.0,130.0 389.0,145.0 370.0,161.2 350.0,170.0" stroke="#f07f1d" stroke-opacity="0.34" stroke-width="1.2"/>
<polyline points="316.2,112.0 317.5,164.0 322.0,180.0" stroke="#d9262b" stroke-opacity="0.38" stroke-width="1.2"/>
<polyline points="318.9,112.0 322.9,137.0 330.0,160.0" stroke="#f07f1d" stroke-opacity="0.34" stroke-width="1.2"/>
<polyline points="300.0,176.0 330.0,178.0 365.0,180.0 398.0,182.0" stroke="#5cb846" stroke-opacity="0.38" stroke-width="1.2"/>
<polyline points="300.0,170.0 335.0,166.0 372.0,172.0" stroke="#3a7dc9" stroke-opacity="0.38" stroke-width="1.2"/>
<polyline points="300.0,186.0 340.0,192.0 372.0,188.0" stroke="#f07f1d" stroke-opacity="0.34" stroke-width="1.2"/>
<polyline points="300.0,198.0 325.0,202.0 350.0,196.0" stroke="#5cb846" stroke-opacity="0.38" stroke-width="1.2"/>
<polyline points="204.0,120.0 214.0,77.7 224.0,118.0" stroke="#3a7dc9" stroke-opacity="0.38" stroke-width="1.2"/>
<polyline points="190.0,118.0 196.7,84.6 203.0,120.0" stroke="#f07f1d" stroke-opacity="0.34" stroke-width="1.2"/>
<polyline points="229.0,122.0 234.8,96.7 241.0,124.0" stroke="#f07f1d" stroke-opacity="0.34" stroke-width="1.2"/>
</g>
<line x1="78" y1="168.7" x2="473" y2="171.5" stroke="#3b74bc" stroke-width="2.6"/>
<line x1="78" y1="163.5" x2="466" y2="177.5" stroke="#55ab40" stroke-width="2.6"/>
<line x1="78" y1="161.7" x2="372.5" y2="161.75" stroke="#d4262c" stroke-width="2.6"/>
<line x1="78" y1="160.3" x2="473" y2="146" stroke="#ec8328" stroke-width="2.6"/>
<line x1="78" y1="176.6" x2="392.5" y2="195.5" stroke="#56389a" stroke-width="2.6"/>
<line x1="59" y1="12" x2="59" y2="273" stroke="#1a1a1a" stroke-width="2"/>
<line x1="58" y1="272" x2="493" y2="272" stroke="#1a1a1a" stroke-width="2"/>
<line x1="54.8" y1="39.5" x2="59" y2="39.5" stroke="#1a1a1a" stroke-width="1.5"/>
<text x="50" y="42.8" text-anchor="end" class="tk">140</text>
<line x1="54.8" y1="99.0" x2="59" y2="99.0" stroke="#1a1a1a" stroke-width="1.5"/>
<text x="50" y="102.3" text-anchor="end" class="tk">120</text>
<line x1="54.8" y1="158.5" x2="59" y2="158.5" stroke="#1a1a1a" stroke-width="1.5"/>
<text x="50" y="161.8" text-anchor="end" class="tk">100</text>
<line x1="54.8" y1="218.0" x2="59" y2="218.0" stroke="#1a1a1a" stroke-width="1.5"/>
<text x="50" y="221.3" text-anchor="end" class="tk">80</text>
<line x1="78.6" y1="272" x2="78.6" y2="277" stroke="#1a1a1a" stroke-width="1.5"/>
<text x="78.6" y="291" text-anchor="middle" class="tk">0</text>
<line x1="194.2" y1="272" x2="194.2" y2="277" stroke="#1a1a1a" stroke-width="1.5"/>
<text x="194.2" y="291" text-anchor="middle" class="tk">2</text>
<line x1="309.8" y1="272" x2="309.8" y2="277" stroke="#1a1a1a" stroke-width="1.5"/>
<text x="309.8" y="291" text-anchor="middle" class="tk">4</text>
<line x1="425.4" y1="272" x2="425.4" y2="277" stroke="#1a1a1a" stroke-width="1.5"/>
<text x="425.4" y="291" text-anchor="middle" class="tk">6</text>
<rect x="393" y="11.3" width="8.7" height="8.6" fill="#3a7dc9"/>
<text x="406" y="19.3" class="lg">ACEi/ARB</text>
<rect x="393" y="27.7" width="8.7" height="8.6" fill="#5cb846"/>
<text x="406" y="35.7" class="lg">Beta Blockers</text>
<rect x="393" y="44.1" width="8.7" height="8.6" fill="#5b3a9e"/>
<text x="406" y="52.1" class="lg">Beta Blockers + HCTZ</text>
<rect x="393" y="60.5" width="8.7" height="8.6" fill="#f07f1d"/>
<text x="406" y="68.5" class="lg">CCB</text>
<rect x="393" y="76.9" width="8.7" height="8.6" fill="#d9262b"/>
<text x="406" y="84.9" class="lg">HCTZ</text>
<text transform="translate(22.2,151.5) rotate(-90) scale(0.6,1)" style="font-family:'Liberation Sans',sans-serif;font-weight:bold;font-size:14.3px;fill:#1a1a1a">MAP</text>
<text transform="translate(242.3,310.2) scale(0.6,1)" style="font-family:'Liberation Sans',sans-serif;font-weight:bold;font-size:14.3px;fill:#1a1a1a">Years from BTKi</text>
</svg>
<div class="cap">ACEi/ARB: Angiotensin-converting-enzyme inhibitors/Angiotensin receptor blockers; BB: Beta blockers; CCB: Calcium channel blockers; HCTZ: Hydrochlorothiazide; MAP: Mean arterial pressure.</div>
<div class="frame"></div>
</body></html>
